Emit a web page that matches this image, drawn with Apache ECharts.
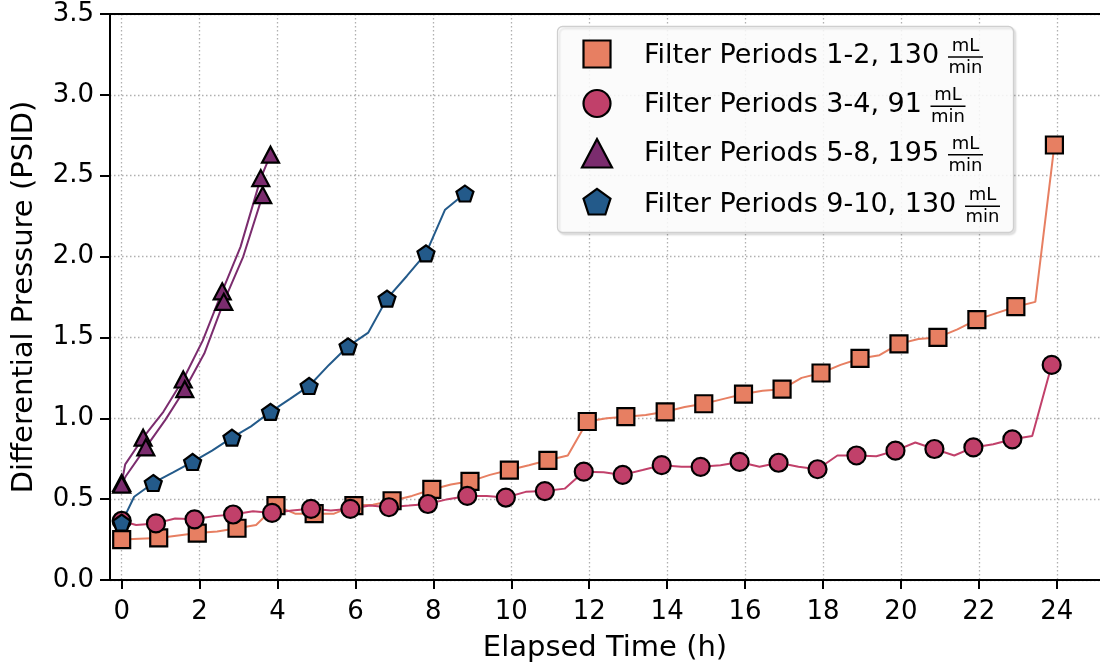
<!DOCTYPE html>
<html><head><meta charset="utf-8">
<script src="https://cdn.jsdelivr.net/npm/echarts@6/dist/echarts.min.js"></script>
<style>html,body{margin:0;padding:0;background:#fff}#c{width:1100px;height:668px}</style>
</head><body><div id="c"></div>
<script>
// ---------- data ----------
const xTicks = [0, 2, 4, 6, 8, 10, 12, 14, 16, 18, 20, 22, 24];

// Filter Periods 1-2 (hourly readings with markers, and in-between readings)
const fp12T = [0, 0.95, 1.94, 2.96, 3.96, 4.94, 5.96, 6.94, 7.96, 8.94, 9.95, 10.94, 11.95, 12.94, 13.95, 14.94, 15.96, 16.95, 17.95, 18.95, 19.95, 20.95, 21.95, 22.95, 23.94];
const fp12P = [0.25, 0.26, 0.29, 0.32, 0.46, 0.41, 0.46, 0.49, 0.56, 0.61, 0.68, 0.74, 0.98, 1.01, 1.04, 1.09, 1.15, 1.18, 1.28, 1.37, 1.46, 1.50, 1.61, 1.69, 2.69];
const fp12MidT = [0.45, 1.45, 2.45, 3.45, 4.45, 5.45, 6.45, 7.45, 8.45, 9.45, 10.45, 11.45, 12.45, 13.45, 14.45, 15.45, 16.45, 17.45, 18.45, 19.45, 20.45, 21.45, 22.45, 23.45];
const fp12MidP = [0.255, 0.275, 0.30, 0.34, 0.41, 0.41, 0.465, 0.52, 0.59, 0.65, 0.71, 0.77, 1.00, 1.02, 1.07, 1.12, 1.17, 1.25, 1.33, 1.39, 1.49, 1.55, 1.65, 1.72];

// Filter Periods 3-4
const fp34T = [0, 0.88, 1.87, 2.86, 3.86, 4.86, 5.87, 6.86, 7.86, 8.87, 9.86, 10.86, 11.86, 12.86, 13.86, 14.86, 15.86, 16.86, 17.86, 18.86, 19.86, 20.86, 21.86, 22.86, 23.87];
const fp34P = [0.365, 0.35, 0.375, 0.405, 0.415, 0.44, 0.44, 0.45, 0.47, 0.52, 0.51, 0.55, 0.67, 0.65, 0.71, 0.70, 0.73, 0.725, 0.685, 0.77, 0.80, 0.81, 0.82, 0.87, 1.33];
const fp34MidT = [0.37, 1.37, 2.37, 3.37, 4.37, 5.37, 6.37, 7.37, 8.37, 9.37, 10.37, 11.37, 12.37, 13.37, 14.37, 15.37, 16.37, 17.37, 18.37, 19.37, 20.37, 21.37, 22.37, 23.37];
const fp34MidP = [0.34, 0.38, 0.395, 0.425, 0.43, 0.43, 0.46, 0.46, 0.50, 0.52, 0.545, 0.565, 0.667, 0.68, 0.70, 0.71, 0.70, 0.70, 0.77, 0.765, 0.85, 0.77, 0.84, 0.89];

// Filter Periods 5-8 (two runs)
const fp58aT = [0, 0.55, 1.58, 2.58, 3.57, 3.82];
const fp58aP = [0.60, 0.88, 1.24, 1.785, 2.485, 2.63];
const fp58aMidT = [0.09, 1.07, 2.08, 3.05];
const fp58aMidP = [0.715, 1.04, 1.48, 2.06];
const fp58bT = [0, 0.62, 1.62, 2.62, 3.62];
const fp58bP = [0.59, 0.82, 1.18, 1.72, 2.38];
const fp58bMidT = [0.1, 1.12, 2.12, 3.12];
const fp58bMidP = [0.64, 0.99, 1.40, 2.00];

// Filter Periods 9-10
const fp910T = [0, 0.81, 1.82, 2.83, 3.82, 4.81, 5.81, 6.81, 7.81, 8.81];
const fp910P = [0.355, 0.60, 0.73, 0.88, 1.04, 1.20, 1.445, 1.74, 2.02, 2.39];
const fp910MidT = [0.32, 1.32, 2.32, 3.32, 4.32, 5.32, 6.33, 7.32, 8.30];
const fp910MidP = [0.515, 0.665, 0.80, 0.95, 1.12, 1.33, 1.53, 1.88, 2.29];

const legendNames = ['Filter Periods 1-2, 130', 'Filter Periods 3-4, 91', 'Filter Periods 5-8, 195', 'Filter Periods 9-10, 130'];

// ---------- styling ----------
const FONT = 'DejaVu Sans';
const C1 = '#e77f62', C2 = '#c1406a', C3 = '#7b2c6e', C4 = '#235a8a';
const PENT = 'path://M0,-100 L95.1,-30.9 L58.8,80.9 L-58.8,80.9 L-95.1,-30.9 Z';

function build(hT, hP, mT, mP) {
  const pts = [];
  hT.forEach((t, i) => pts.push({ value: [t, hP[i]] }));
  mT.forEach((t, i) => pts.push({ value: [t, mP[i]], symbol: 'none' }));
  pts.sort((a, b) => a.value[0] - b.value[0]);
  return pts;
}
function ser(name, data, color, symbol, size) {
  return {
    type: 'line', name, data, symbol, symbolSize: size, showAllSymbol: true,
    lineStyle: { color, width: 2 },
    itemStyle: { color, borderColor: '#000', borderWidth: 2.2 },
    emphasis: { disabled: true }, animation: false, silent: true
  };
}

const chart = echarts.init(document.getElementById('c'), null, { renderer: 'canvas' });

// legend graphics
const rowBase = [64, 113.3, 161.7, 213.3];
const fracCx = [965.5, 948, 965.5, 982.5];
const g = [];
g.push({ type: 'rect', shape: { x: 557.5, y: 26.5, width: 456, height: 206, r: 5 },
  style: { fill: 'rgba(255,255,255,0.85)', stroke: '#cfcfcf', lineWidth: 1.3,
    shadowColor: 'rgba(0,0,0,0.12)', shadowOffsetX: 2, shadowOffsetY: 2, shadowBlur: 2 }, z: 100 });
const mk = { stroke: '#000', lineWidth: 2.2 };
g.push({ type: 'rect', shape: { x: 583.5, y: 40.5, width: 27, height: 27 }, style: Object.assign({ fill: C1 }, mk), z: 101 });
g.push({ type: 'circle', shape: { cx: 597, cy: 103.5, r: 13.5 }, style: Object.assign({ fill: C2 }, mk), z: 101 });
g.push({ type: 'polygon', shape: { points: [[597, 139], [582, 167.5], [612, 167.5]] }, style: Object.assign({ fill: C3 }, mk), z: 101 });
(function () {
  const R = 14.2, cx = 597, cy = 203, pts = [];
  for (let k = 0; k < 5; k++) { const a = -Math.PI / 2 + k * 2 * Math.PI / 5; pts.push([cx + R * Math.cos(a), cy + R * Math.sin(a)]); }
  g.push({ type: 'polygon', shape: { points: pts }, style: Object.assign({ fill: C4 }, mk), z: 101 });
})();
legendNames.forEach((s, i) => {
  const b = rowBase[i];
  g.push({ type: 'text', x: 644, y: b - 0.3 * 27, style: { text: s, font: '27px "' + FONT + '"', fill: '#000', verticalAlign: 'middle', align: 'left' }, z: 101 });
  const bar = b - 7, cx = fracCx[i];
  g.push({ type: 'text', x: cx, y: bar - 10.5, style: { text: 'mL', font: '18px "' + FONT + '"', fill: '#000', verticalAlign: 'middle', align: 'center' }, z: 101 });
  g.push({ type: 'line', shape: { x1: cx - 17.5, y1: bar, x2: cx + 17.5, y2: bar }, style: { stroke: '#000', lineWidth: 1.5 }, z: 101 });
  g.push({ type: 'text', x: cx, y: bar + 11.5, style: { text: 'min', font: '18px "' + FONT + '"', fill: '#000', verticalAlign: 'middle', align: 'center' }, z: 101 });
});

const gridLine = { show: true, lineStyle: { color: '#b0b0b0', width: 1.3, type: [1.5, 2.5] } };
const option = {
  animation: false,
  backgroundColor: '#fff',
  grid: { left: 110, right: -5, top: 14, bottom: 87.3, show: false, containLabel: false },
  xAxis: [{
    type: 'value', min: -0.3, max: 25.11, position: 'bottom',
    name: 'Elapsed Time (h)', nameLocation: 'middle', nameGap: 54,
    nameTextStyle: { fontFamily: FONT, fontSize: 29, color: '#000' },
    axisLine: { show: true, onZero: false, lineStyle: { color: '#000', width: 2 } },
    axisTick: { show: true, length: 9, lineStyle: { color: '#000', width: 2 }, customValues: xTicks },
    axisLabel: { customValues: xTicks, fontFamily: FONT, fontSize: 26, color: '#000', margin: 19, formatter: v => String(Math.round(v)) },
    splitLine: gridLine
  }, {
    type: 'value', min: -0.3, max: 25.11, position: 'top',
    axisLine: { show: true, onZero: false, lineStyle: { color: '#000', width: 2 } },
    axisTick: { show: false }, axisLabel: { show: false }, splitLine: { show: false }
  }],
  yAxis: {
    type: 'value', min: 0, max: 3.5, interval: 0.5, position: 'left',
    name: 'Differential Pressure (PSID)', nameLocation: 'middle', nameGap: 71,
    nameTextStyle: { fontFamily: FONT, fontSize: 29, color: '#000' },
    axisLine: { show: true, onZero: false, lineStyle: { color: '#000', width: 2 } },
    axisTick: { show: true, length: 10, lineStyle: { color: '#000', width: 2 } },
    axisLabel: { fontFamily: FONT, fontSize: 26, color: '#000', margin: 16, formatter: v => v.toFixed(1) },
    splitLine: gridLine
  },
  series: [
    ser(legendNames[0], build(fp12T, fp12P, fp12MidT, fp12MidP), C1, 'rect', 17),
    ser(legendNames[1], build(fp34T, fp34P, fp34MidT, fp34MidP), C2, 'circle', 18),
    ser(legendNames[2], build(fp58aT, fp58aP, fp58aMidT, fp58aMidP), C3, 'triangle', [17, 16]),
    ser(legendNames[2] + ' b', build(fp58bT, fp58bP, fp58bMidT, fp58bMidP), C3, 'triangle', [17, 16]),
    ser(legendNames[3], build(fp910T, fp910P, fp910MidT, fp910MidP), C4, PENT, [17, 16])
  ],
  graphic: g
};
chart.setOption(option);
</script>
</body></html>
